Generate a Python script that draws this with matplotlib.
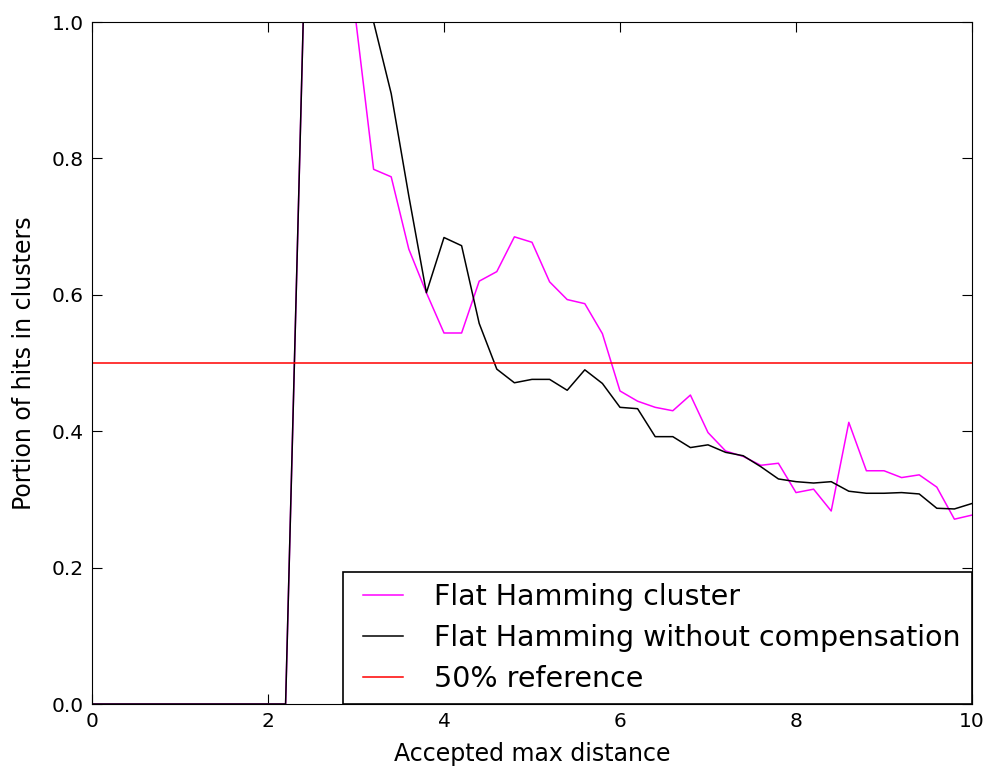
import numpy as np
import matplotlib
matplotlib.use('Agg')
import matplotlib.pyplot as plt

dist = np.round(np.arange(0, 10.01, 0.2), 1)

# portion of hits in clusters
flat = [0, 0, 0, 0, 0, 0, 0, 0, 0, 0, 0, 0,
        1.0, 1.3, 1.2, 1.0, 0.784, 0.773, 0.667, 0.603, 0.544, 0.544, 0.620, 0.634,
        0.685, 0.677, 0.619, 0.593, 0.587, 0.543, 0.459, 0.444, 0.435, 0.430, 0.453,
        0.398, 0.371, 0.363, 0.350, 0.353, 0.310, 0.315, 0.283, 0.413, 0.342, 0.342,
        0.332, 0.336, 0.318, 0.271, 0.277]
nocomp = [0, 0, 0, 0, 0, 0, 0, 0, 0, 0, 0, 0,
          1.0, 1.3, 1.25, 1.1, 1.0, 0.895, 0.745, 0.603, 0.684, 0.672, 0.558, 0.491,
          0.471, 0.476, 0.476, 0.460, 0.490, 0.470, 0.435, 0.433, 0.392, 0.392, 0.376,
          0.380, 0.369, 0.364, 0.348, 0.330, 0.326, 0.324, 0.326, 0.312, 0.309, 0.309,
          0.310, 0.308, 0.287, 0.286, 0.294]

fig = plt.figure(figsize=(9.92, 7.72), dpi=100)
ax = fig.add_axes([92/992, 68/772, 880/992, 682/772])

ax.plot(dist, flat, color='magenta', lw=1.1, label='Flat Hamming cluster')
ax.plot(dist, nocomp, color='black', lw=1.1, label='Flat Hamming without compensation')
ax.axhline(0.5, color='red', lw=1.1, label='50% reference')

ax.set_xlim(0, 10)
ax.set_ylim(0, 1)
ax.set_xticks([0, 2, 4, 6, 8, 10])
ax.set_yticks([0, 0.2, 0.4, 0.6, 0.8, 1.0])
ax.tick_params(direction='in', top=True, right=True, length=7, labelsize=14.5, pad=6)
ax.set_xlabel('Accepted max distance', fontsize=17, labelpad=8)
ax.set_ylabel('Portion of hits in clusters', fontsize=17, labelpad=11)

leg = ax.legend(loc='lower right', fontsize=20.5, borderaxespad=0, fancybox=False,
                framealpha=1, edgecolor='black', numpoints=2, handlelength=2.0,
                handletextpad=0.8, borderpad=0.4, labelspacing=0.45)
leg.get_frame().set_linewidth(1.2)

fig.savefig('out.png', dpi=100)
